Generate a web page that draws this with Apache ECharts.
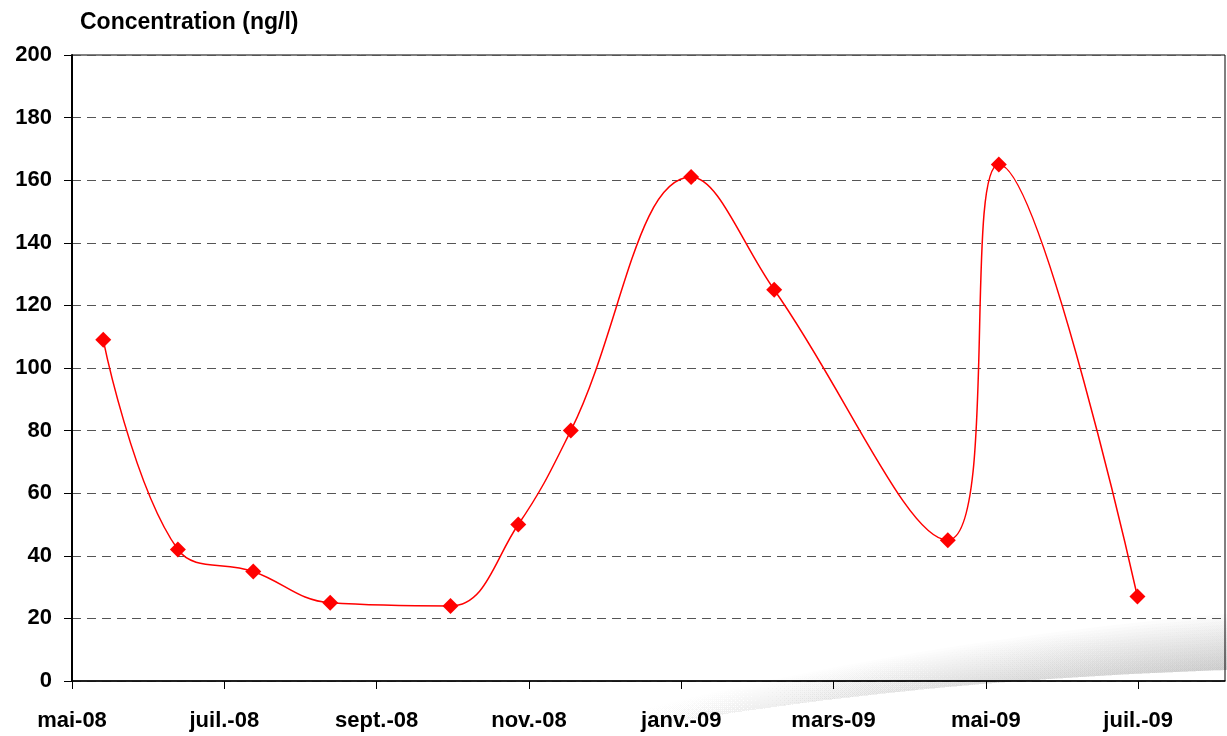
<!DOCTYPE html>
<html>
<head>
<meta charset="utf-8">
<title>Concentration (ng/l)</title>
<script src="https://cdn.jsdelivr.net/npm/echarts@6/dist/echarts.min.js"></script>
<style>
  html, body { margin: 0; padding: 0; background: #fff; }
  #chart { width: 1227px; height: 736px; }
</style>
</head>
<body>
<div id="chart"></div>
<script>
// Month offsets counted from May 2008, with the tick labels drawn under them
const tickMonths = [0, 2, 4, 6, 8, 10, 12, 14];
const tickLabels = ['mai-08', 'juil.-08', 'sept.-08', 'nov.-08', 'janv.-09', 'mars-09', 'mai-09', 'juil.-09'];

// Sampling dates (months since May 2008) and measured concentrations (ng/l)
const sampleMonths = [0.41, 1.39, 2.38, 3.39, 4.97, 5.86, 6.55, 8.13, 9.22, 11.5, 12.17, 13.99];
const concentrations = [109, 42, 35, 25, 24, 50, 80, 161, 125, 45, 165, 27];

const FONT = "'Liberation Sans', Arial, sans-serif";

const chart = echarts.init(document.getElementById('chart'), null, { renderer: 'canvas' });

// Cubic Bezier sampled into points
function bezierPoints(p0, p1, p2, p3, steps) {
  const pts = [];
  for (let k = 0; k <= steps; k++) {
    const t = k / steps, u = 1 - t;
    pts.push([
      u * u * u * p0[0] + 3 * u * u * t * p1[0] + 3 * u * t * t * p2[0] + t * t * t * p3[0],
      u * u * u * p0[1] + 3 * u * u * t * p1[1] + 3 * u * t * t * p2[1] + t * t * t * p3[1]
    ]);
  }
  return pts;
}

// Soft grey curl along the bottom right corner, built from stacked translucent bands
function curlBands() {
  const bands = [];
  const n = 16;
  const lower = bezierPoints([600, 736], [800, 697], [1000, 678], [1227, 670], 40);
  for (let i = 1; i <= n; i++) {
    const h = i * 3.5;
    const upper = bezierPoints([600, 736 - h * 0.3], [800, 697 - h * 0.5], [1000, 678 - h * 0.8], [1227, 670 - h], 40).reverse();
    bands.push({
      type: 'polygon',
      silent: true,
      z: -5,
      shape: { points: lower.concat(upper) },
      style: {
        fill: new echarts.graphic.LinearGradient(0, 0, 1, 0, [
          { offset: 0, color: 'rgba(100,100,100,0)' },
          { offset: 0.3, color: 'rgba(100,100,100,0.008)' },
          { offset: 1, color: 'rgba(100,100,100,0.022)' }
        ])
      }
    });
  }
  return bands;
}

const option = {
  animation: false,
  backgroundColor: '#fff',
  textStyle: { fontFamily: FONT },
  title: {
    text: 'Concentration (ng/l)',
    left: 80,
    top: 11,
    padding: 0,
    textStyle: { fontFamily: FONT, fontSize: 23, fontWeight: 'bold', color: '#000' }
  },
  graphic: curlBands(),
  grid: {
    left: 72,
    right: 2,
    top: 55,
    bottom: 55,
    show: true,
    borderColor: '#000',
    borderWidth: 1,
    backgroundColor: 'transparent'
  },
  xAxis: {
    type: 'value',
    min: 0,
    max: 15.14,
    axisLine: { show: true, lineStyle: { color: '#000', width: 1.5 } },
    axisTick: {
      show: true,
      length: 8,
      customValues: tickMonths,
      lineStyle: { color: '#000', width: 1 }
    },
    axisLabel: {
      customValues: tickMonths,
      margin: 29,
      fontFamily: FONT,
      fontSize: 22,
      fontWeight: 'bold',
      color: '#000',
      formatter: function (v) {
        const i = tickMonths.indexOf(Math.round(v));
        return i >= 0 ? tickLabels[i] : '';
      }
    },
    splitLine: { show: false }
  },
  yAxis: {
    type: 'value',
    min: 0,
    max: 200,
    interval: 20,
    axisLine: { show: true, lineStyle: { color: '#000', width: 2 } },
    axisTick: { show: true, length: 8, lineStyle: { color: '#000', width: 1 } },
    axisLabel: {
      margin: 20,
      fontFamily: FONT,
      fontSize: 22,
      fontWeight: 'bold',
      color: '#000'
    },
    splitLine: {
      show: true,
      lineStyle: { color: '#555', width: 1, type: [9, 6] }
    }
  },
  series: [{
    type: 'line',
    data: sampleMonths.map((m, i) => [m, concentrations[i]]),
    smooth: 0.4,
    symbol: 'diamond',
    symbolSize: 16,
    lineStyle: { color: '#ff0000', width: 1.5 },
    itemStyle: { color: '#ff0000' },
    z: 5
  }]
};

chart.setOption(option);
</script>
</body>
</html>
